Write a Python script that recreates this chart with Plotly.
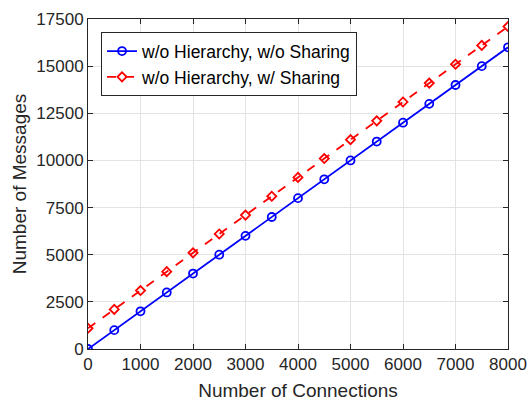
import plotly.graph_objects as go

connections = [0, 500, 1000, 1500, 2000, 2500, 3000, 3500, 4000, 4500, 5000, 5500, 6000, 6500, 7000, 7500, 8000]
no_sharing = [0, 1000, 2000, 3000, 4000, 5000, 6000, 7000, 8000, 9000, 10000, 11000, 12000, 13000, 14000, 15000, 16000]
with_sharing = [1100, 2100, 3100, 4100, 5100, 6100, 7100, 8100, 9100, 10100, 11100, 12100, 13100, 14100, 15100, 16100, 17100]
x_ticks = [0, 1000, 2000, 3000, 4000, 5000, 6000, 7000, 8000]
y_ticks = [0, 2500, 5000, 7500, 10000, 12500, 15000, 17500]

FONT = "Liberation Sans, Arial, Helvetica, sans-serif"

fig = go.Figure()
fig.add_trace(go.Scatter(
    x=connections, y=no_sharing, mode="lines+markers",
    name="w/o Hierarchy, w/o Sharing",
    line=dict(color="#0000ff", width=1.8),
    marker=dict(symbol="circle-open", size=8, color="#0000ff", line=dict(width=1.8)),
))
fig.add_trace(go.Scatter(
    x=connections, y=with_sharing, mode="lines+markers",
    name="w/o Hierarchy, w/ Sharing",
    line=dict(color="#ff0000", width=1.8, dash="dash"),
    marker=dict(symbol="diamond-open", size=7, color="#ff0000", line=dict(width=1.8)),
))

axis_common = dict(
    showgrid=True, gridcolor="#e3e3e3", gridwidth=1,
    showline=True, linecolor="#262626", linewidth=1, mirror="ticks",
    ticks="inside", ticklen=5, tickcolor="#262626",
    tickfont=dict(family=FONT, size=17, color="#262626"),
    zeroline=False, automargin=False,
)
fig.update_xaxes(range=[0, 8000], tickvals=x_ticks, ticktext=[str(v) for v in x_ticks],
                 title=dict(text="Number of Connections", font=dict(family=FONT, size=19, color="#262626"), standoff=10),
                 **axis_common)
fig.update_yaxes(range=[0, 17500], tickvals=y_ticks, ticktext=[str(v) for v in y_ticks],
                 title=dict(text="Number of Messages", font=dict(family=FONT, size=19, color="#262626"), standoff=4),
                 **axis_common)

fig.update_layout(
    width=527, height=401,
    margin=dict(l=88, r=19, t=19, b=52),
    plot_bgcolor="white", paper_bgcolor="white",
    legend=dict(x=0.031, y=0.96, xanchor="left", yanchor="top",
                bordercolor="#262626", borderwidth=1, bgcolor="white",
                font=dict(family=FONT, size=17.5, color="#000000"),
                tracegroupgap=0),
    showlegend=True,
)

fig.write_html("out.html")
